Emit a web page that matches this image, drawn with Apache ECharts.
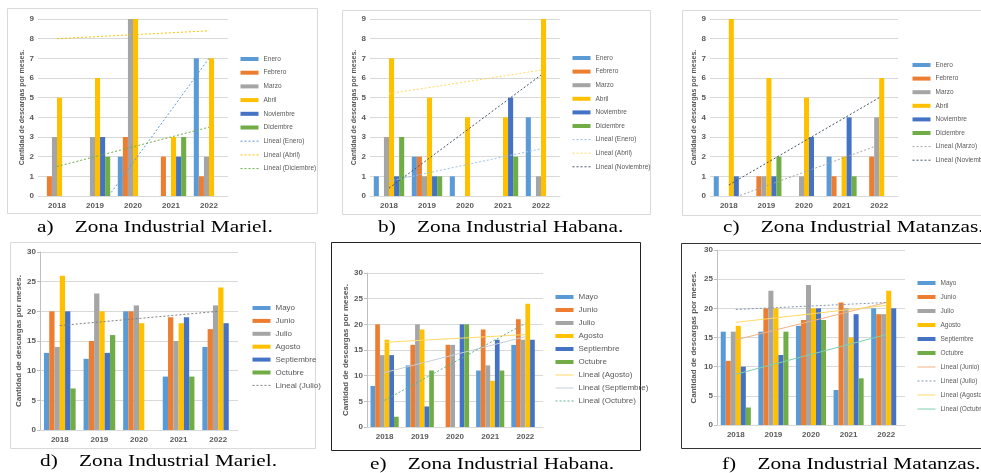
<!DOCTYPE html>
<html>
<head>
<meta charset="utf-8">
<script src="https://cdn.jsdelivr.net/npm/echarts@6/dist/echarts.min.js"></script>
<style>
  html, body { margin: 0; padding: 0; background: #ffffff; }
  #chart { width: 981px; height: 473px; }
</style>
</head>
<body>
<div id="chart"></div>
<script>
// ---------------- DATA ----------------
const years = ['2018', '2019', '2020', '2021', '2022'];
const monthsEarly = ['Enero', 'Febrero', 'Marzo', 'Abril', 'Noviembre', 'Diciembre'];
const monthsMid = ['Mayo', 'Junio', 'Julio', 'Agosto', 'Septiembre', 'Octubre'];
const yAxisTitle = 'Cantidad de descargas por meses.';

// a) Zona Industrial Mariel (Enero..Diciembre), one row per month, values 2018..2022
const marielA = [
  [0, 0, 2, 0, 7],   // Enero
  [1, 0, 3, 2, 1],   // Febrero
  [3, 3, 9, 0, 2],   // Marzo
  [5, 6, 9, 3, 7],   // Abril
  [0, 3, 0, 2, 0],   // Noviembre
  [0, 2, 0, 3, 0]    // Diciembre
];
const marielATrendNames = ['Lineal (Enero)', 'Lineal (Abril)', 'Lineal (Diciembre)'];
const marielATrendStart = [-3.6, 8.0, 1.5];
const marielATrendEnd = [7.0, 8.4, 3.5];

// b) Zona Industrial Habana
const habanaB = [
  [1, 2, 1, 0, 4],
  [0, 2, 0, 0, 0],
  [3, 1, 0, 0, 1],
  [7, 5, 4, 4, 9],
  [1, 1, 0, 5, 0],
  [3, 1, 0, 2, 0]
];
const habanaBTrendNames = ['Lineal (Enero)', 'Lineal (Abril)', 'Lineal (Noviembre)'];
const habanaBTrendStart = [0.75, 5.2, 0.4];
const habanaBTrendEnd = [2.4, 6.4, 6.15];

// c) Zona Industrial Matanzas
const matanzasC = [
  [1, 0, 0, 2, 0],
  [0, 1, 0, 1, 2],
  [0, 1, 1, 0, 4],
  [9, 6, 5, 2, 6],
  [1, 1, 3, 4, 0],
  [0, 2, 0, 1, 0]
];
const matanzasCTrendNames = ['Lineal (Marzo)', 'Lineal (Noviembre)'];
const matanzasCTrendStart = [-0.18, 0.56];
const matanzasCTrendEnd = [2.6, 5.0];

// d) Zona Industrial Mariel (Mayo..Octubre)
const marielD = [
  [13, 12, 20, 9, 14],   // Mayo
  [20, 15, 20, 19, 17],  // Junio
  [14, 23, 21, 15, 21],  // Julio
  [26, 20, 18, 18, 24],  // Agosto
  [20, 13, 0, 19, 18],   // Septiembre
  [7, 16, 0, 9, 0]       // Octubre
];
const marielDTrendNames = ['Lineal (Julio)'];
const marielDTrendStart = [17.6];
const marielDTrendEnd = [20.0];

// e) Zona Industrial Habana
const habanaE = [
  [8, 12, 0, 11, 16],
  [20, 16, 16, 19, 21],
  [14, 20, 16, 12, 17],
  [17, 19, 0, 9, 24],
  [14, 4, 20, 17, 17],
  [2, 11, 20, 11, 0]
];
const habanaETrendNames = ['Lineal (Agosto)', 'Lineal (Septiembre)', 'Lineal (Octubre)'];
const habanaETrendStart = [16.5, 10.6, 5.2];
const habanaETrendEnd = [18.0, 17.6, 20.2];

// f) Zona Industrial Matanzas
const matanzasF = [
  [16, 16, 17, 6, 20],
  [11, 20, 18, 21, 19],
  [16, 23, 24, 20, 19],
  [17, 20, 20, 15, 23],
  [10, 12, 20, 19, 20],
  [3, 16, 18, 8, 0]
];
const matanzasFTrendNames = ['Lineal (Junio)', 'Lineal (Julio)', 'Lineal (Agosto)', 'Lineal (Octubre)'];
const matanzasFTrendStart = [14.6, 19.8, 17.6, 8.7];
const matanzasFTrendEnd = [21.0, 21.0, 20.5, 15.5];

const captions = [
  'a)    Zona Industrial Mariel.',
  'b)    Zona Industrial Habana.',
  'c)    Zona Industrial Matanzas.',
  'd)    Zona Industrial Mariel.',
  'e)    Zona Industrial Habana.',
  'f)    Zona Industrial Matanzas.'
];

// ---------------- STYLE / LAYOUT ----------------
const barColors = ['#5B9BD5', '#ED7D31', '#A5A5A5', '#FFC000', '#4472C4', '#70AD47'];

const panels = [
  { names: monthsEarly, values: marielA, tn: marielATrendNames, ts: marielATrendStart, te: marielATrendEnd,
    tc: ['#5B9BD5', '#FFC000', '#70AD47'], tt: [[2, 2], [2, 2], [2, 2]],
    grid: { left: 38, top: 19, width: 190, height: 177 }, max: 9, interval: 1, axisLine: false,
    nameGap: 11, nameSize: 7, legend: { left: 240, top: 54.5, gap: 4.7, font: 6.5, lh: 9 },
    frame: [7, 8, 310, 205, '#d9d9d9'], cap: [37, 228] },
  { names: monthsEarly, values: habanaB, tn: habanaBTrendNames, ts: habanaBTrendStart, te: habanaBTrendEnd,
    tc: ['#9DC3E6', '#FFD966', '#44546A'], tt: [[2, 2], [2, 2], [2, 2]],
    grid: { left: 370, top: 19, width: 190, height: 177 }, max: 9, interval: 1, axisLine: false,
    nameGap: 8, nameSize: 7, legend: { left: 572, top: 53.5, gap: 4.6, font: 6.5, lh: 9 },
    frame: [342, 10, 308, 204, '#d9d9d9'], cap: [378, 228] },
  { names: monthsEarly, values: matanzasC, tn: matanzasCTrendNames, ts: matanzasCTrendStart, te: matanzasCTrendEnd,
    tc: ['#A5A5A5', '#44546A'], tt: [[2, 2], [2, 2]],
    grid: { left: 710, top: 19, width: 188, height: 177 }, max: 9, interval: 1, axisLine: false,
    nameGap: 8, nameSize: 7, legend: { left: 912, top: 60.5, gap: 4.6, font: 6.5, lh: 9 },
    frame: [682, 10, 310, 205, '#d9d9d9'], cap: [723, 228] },
  { names: monthsMid, values: marielD, tn: marielDTrendNames, ts: marielDTrendStart, te: marielDTrendEnd,
    tc: ['#7f7f7f'], tt: [[2, 2]],
    grid: { left: 40, top: 252, width: 198, height: 178 }, max: 30, interval: 5, axisLine: true,
    nameGap: 9, nameSize: 8, legend: { left: 252, top: 303, gap: 2.9, font: 8, lh: 10 },
    frame: [10, 242, 305, 206, '#d9d9d9'], cap: [40, 462] },
  { names: monthsMid, values: habanaE, tn: habanaETrendNames, ts: habanaETrendStart, te: habanaETrendEnd,
    tc: ['#FFD966', '#C9CFD6', '#5FB38F'], tt: ['solid', 'solid', [2, 2]],
    grid: { left: 367, top: 273, width: 176, height: 154 }, max: 30, interval: 5, axisLine: true,
    nameGap: 16, nameSize: 8, legend: { left: 555, top: 292, gap: 3, font: 8, lh: 10 },
    frame: [331, 242, 309, 208, '#222222'], cap: [370, 465] },
  { names: monthsMid, values: matanzasF, tn: matanzasFTrendNames, ts: matanzasFTrendStart, te: matanzasFTrendEnd,
    tc: ['#F4B183', '#8497B0', '#FFD966', '#7FD1AE'], tt: ['solid', [2, 2], 'solid', 'solid'],
    grid: { left: 717, top: 250, width: 188, height: 175 }, max: 30, interval: 5, axisLine: true,
    nameGap: 19, nameSize: 8, legend: { left: 917, top: 278.5, gap: 5, font: 6.5, lh: 9 },
    frame: [681, 243, 310, 205, '#333333'], cap: [722, 465] }
];

// ---------------- BUILD OPTION ----------------
const grids = [], xAxes = [], yAxes = [], series = [], legends = [], graphics = [];
const hiddenSymbol = { color: 'rgba(0,0,0,0)', borderColor: 'rgba(0,0,0,0)', borderWidth: 0, opacity: 0 };

panels.forEach((p, i) => {
  grids.push(Object.assign({ containLabel: false }, p.grid));
  xAxes.push({
    type: 'category', gridIndex: i, data: years,
    axisTick: { show: false },
    axisLine: { lineStyle: { color: '#d9d9d9' } },
    axisLabel: { fontSize: 8, color: '#595959', margin: 6, fontFamily: 'Liberation Sans', fontWeight: 'bold' }
  });
  yAxes.push({
    type: 'value', gridIndex: i, min: 0, max: p.max, interval: p.interval,
    name: yAxisTitle, nameLocation: 'middle', nameRotate: 90, nameGap: p.nameGap,
    nameTextStyle: { fontSize: p.nameSize, color: '#595959', fontWeight: 'bold', fontFamily: 'Liberation Sans' },
    axisLine: { show: p.axisLine, lineStyle: { color: '#bfbfbf' } },
    axisTick: { show: p.axisLine, length: 3, lineStyle: { color: '#bfbfbf' } },
    splitLine: { lineStyle: { color: '#d9d9d9' } },
    axisLabel: { fontSize: 8, color: '#595959', margin: 4, fontFamily: 'Liberation Sans', fontWeight: 'bold' }
  });
  const legendData = [];
  p.names.forEach((n, k) => {
    series.push({
      name: n, type: 'bar', xAxisIndex: i, yAxisIndex: i, data: p.values[k],
      barGap: '0%', barCategoryGap: '20%',
      itemStyle: { color: barColors[k] }, silent: true, animation: false
    });
    legendData.push({ name: n, icon: 'rect', itemStyle: { color: barColors[k] } });
  });
  p.tn.forEach((n, k) => {
    series.push({
      name: n, type: 'line', xAxisIndex: i, yAxisIndex: i,
      data: [p.ts[k], null, null, null, p.te[k]], connectNulls: true,
      symbol: 'none', z: 5, silent: true, animation: false, clip: true,
      lineStyle: { color: p.tc[k], width: 1, type: p.tt[k] },
      itemStyle: { color: p.tc[k] }
    });
    legendData.push({ name: n, itemStyle: hiddenSymbol,
                      lineStyle: { color: p.tc[k], width: 1, type: p.tt[k] } });
  });
  legends.push({
    orient: 'vertical', left: p.legend.left, top: p.legend.top,
    itemWidth: 18, itemHeight: 4, itemGap: p.legend.gap, padding: 0,
    selectedMode: false, data: legendData,
    textStyle: { fontSize: p.legend.font, lineHeight: p.legend.lh, color: '#595959', fontFamily: 'Liberation Sans' }
  });
  const f = p.frame;
  graphics.push({
    type: 'rect', silent: true, z: -10,
    shape: { x: f[0] + 0.5, y: f[1] + 0.5, width: f[2], height: f[3] },
    style: { fill: 'none', stroke: f[4], lineWidth: 1 }
  });
  graphics.push({
    type: 'text', silent: true, x: p.cap[0], y: p.cap[1], scaleX: 1.33,
    style: { text: captions[i], font: '16px "Liberation Serif"', fill: '#000000',
             textAlign: 'left', textVerticalAlign: 'middle' }
  });
});

const chart = echarts.init(document.getElementById('chart'), null, { renderer: 'canvas' });
chart.setOption({
  backgroundColor: '#ffffff',
  animation: false,
  grid: grids,
  xAxis: xAxes,
  yAxis: yAxes,
  legend: legends,
  series: series,
  graphic: graphics
});
</script>
</body>
</html>
